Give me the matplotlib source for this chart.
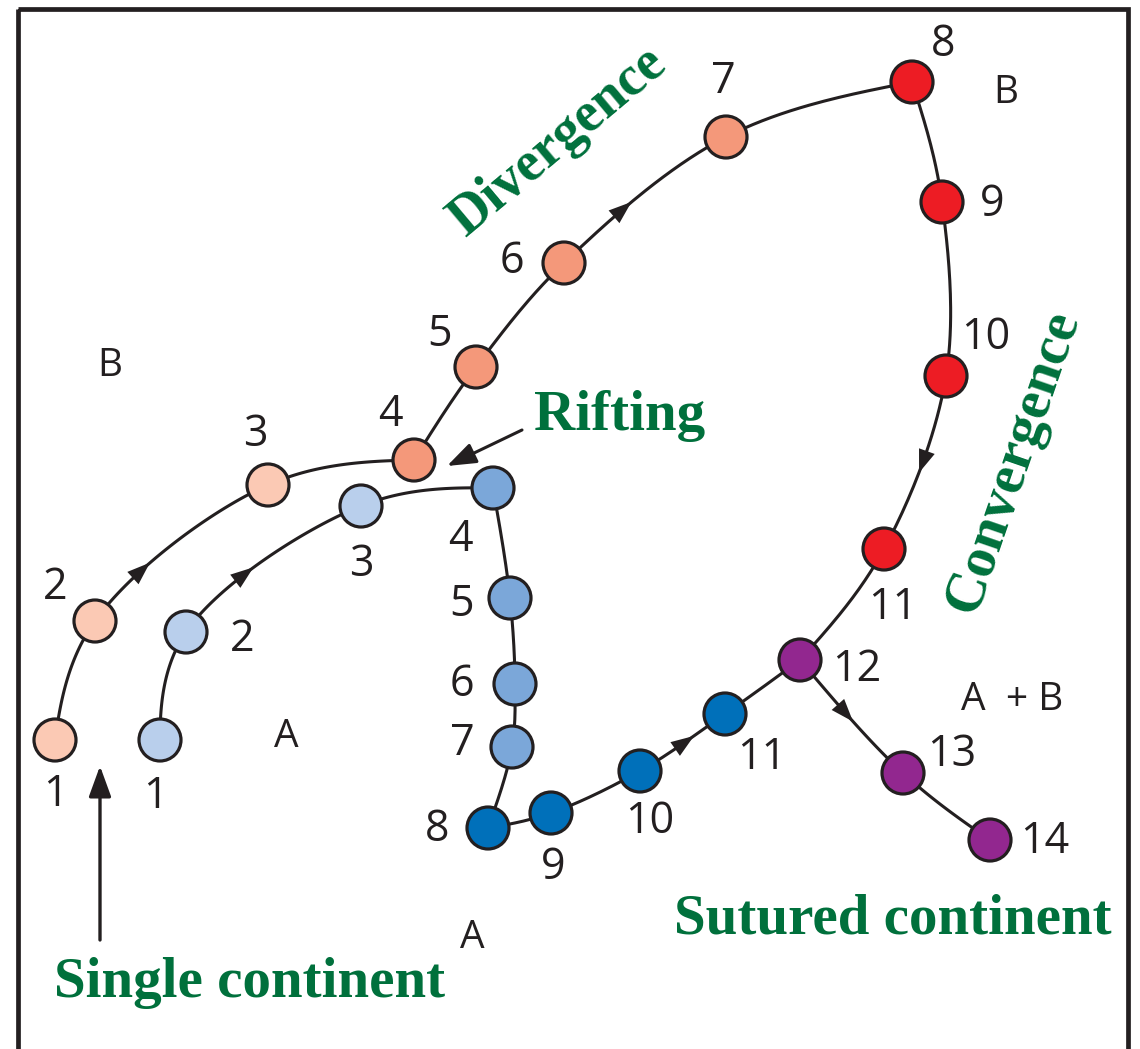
import numpy as np
import matplotlib
matplotlib.use("Agg")
import matplotlib.pyplot as plt
from matplotlib.patches import Circle, Rectangle, FancyArrowPatch

# ── data: stage positions (drawing pixel coords) ─────────────────────────────
# continent B path, stages 1-14 (12-14 = sutured A+B)
B_X = [55, 95, 268, 414, 476, 564, 726, 912, 942, 946, 884, 800, 903, 990]
B_Y = [740, 621, 485, 460, 367, 263, 137, 82, 202, 376, 549, 660, 773, 840]
B_STAGE = list(range(1, 15))
# continent A path, stages 1-11 (joins B at stage 12)
A_X = [160, 186, 361, 493, 510, 515, 512, 488, 551, 640, 725]
A_Y = [740, 632, 506, 488, 598, 684, 747, 828, 813, 771, 714]
A_STAGE = list(range(1, 12))

# stage groups -> phase colour
B_PHASE = ["pre"] * 3 + ["div"] * 4 + ["conv"] * 4 + ["sut"] * 3
A_PHASE = ["pre"] * 3 + ["div"] * 4 + ["conv"] * 4

# ── style ────────────────────────────────────────────────────────────────────
INK = "#231F20"
GREEN = "#00703C"
B_COL = {"pre": "#FBC9B4", "div": "#F4987A", "conv": "#ED1C24", "sut": "#92278F"}
A_COL = {"pre": "#B9CFEC", "div": "#7BA7D9", "conv": "#0070BA"}
R = 21
SANS = ["Open Sans", "DejaVu Sans"]
SERIF = ["Liberation Serif", "DejaVu Serif"]
HEAD = "-|>,head_length=0.55,head_width=0.2"

# label offsets from each circle (dx, dy)
B_LAB = [(0, 55), (-40, -33), (-13, -50), (-24, -45), (-36, -32), (-52, -1),
         (-3, -55), (31, -37), (50, 3), (40, -38), (9, 59), (57, 10), (49, -18), (55, 2)]
A_LAB = [(-5, 57), (56, 8), (0, 59), (-33, 52), (-48, 7), (-53, 1), (-50, -3),
         (-51, 2), (2, 55), (10, 51), (37, 44)]


def phantom(a, b, c):
    """extra point beyond c so the last span a-b-c ends like a circular arc"""
    t = c - a
    t = t / np.linalg.norm(t)
    ch = c - b
    L = np.linalg.norm(ch)
    ch = ch / L
    te = 2 * np.dot(t, ch) * ch - t
    return c + te * L


def catmull(px, py, n=40, alpha=0.5):
    """centripetal Catmull-Rom through the given points"""
    p = np.column_stack([px, py]).astype(float)
    if len(p) >= 3:
        head, tail = phantom(p[2], p[1], p[0]), phantom(p[-3], p[-2], p[-1])
    else:
        head, tail = 2 * p[0] - p[1], 2 * p[-1] - p[-2]
    p = np.vstack([head, p, tail])
    out = []
    for i in range(1, len(p) - 2):
        p0, p1, p2, p3 = p[i - 1], p[i], p[i + 1], p[i + 2]
        t0 = 0.0
        t1 = t0 + np.linalg.norm(p1 - p0) ** alpha
        t2 = t1 + np.linalg.norm(p2 - p1) ** alpha
        t3 = t2 + np.linalg.norm(p3 - p2) ** alpha
        t = np.linspace(t1, t2, n)[:, None]
        a1 = (t1 - t) / (t1 - t0) * p0 + (t - t0) / (t1 - t0) * p1
        a2 = (t2 - t) / (t2 - t1) * p1 + (t - t1) / (t2 - t1) * p2
        a3 = (t3 - t) / (t3 - t2) * p2 + (t - t2) / (t3 - t2) * p3
        b1 = (t2 - t) / (t2 - t0) * a1 + (t - t0) / (t2 - t0) * a2
        b2 = (t3 - t) / (t3 - t1) * a2 + (t - t1) / (t3 - t1) * a3
        out.append((t2 - t) / (t2 - t1) * b1 + (t - t1) / (t2 - t1) * b2)
    return np.vstack(out)


def seg_point(px, py, k, tt):
    c = catmull(px, py, n=201)
    i = k * 201 + int(tt * 200)
    return c[i], c[i + 3] - c[i - 3]


fig = plt.figure(figsize=(11.4, 10.49), dpi=100)
ax = fig.add_axes([0, 0, 1, 1])
ax.set_xlim(0, 1140); ax.set_ylim(1049, 0); ax.axis("off")

ax.add_patch(Rectangle((18, 9), 1110, 1100, fill=False, ec=INK, lw=3.4, zorder=0))

# path pieces (break at corners)
B_PIECES = [(0, 4), (3, 8), (7, 12), (11, 14)]
A_PIECES = [(0, 4), (3, 8)]
for xs, ys, pieces in [(B_X, B_Y, B_PIECES), (A_X, A_Y, A_PIECES)]:
    for a, b in pieces:
        c = catmull(xs[a:b], ys[a:b])
        ax.plot(c[:, 0], c[:, 1], color=INK, lw=2.2, zorder=1)
# A 8 -> 11 -> B 12
ax_x = A_X[7:] + [B_X[11]]; ax_y = A_Y[7:] + [B_Y[11]]
c = catmull(ax_x, ax_y)
ax.plot(c[:, 0], c[:, 1], color=INK, lw=2.2, zorder=1)

# direction arrowheads: (xs, ys, segment index, fraction)
heads = [
    (B_X[0:4], B_Y[0:4], 1, 0.33),
    (B_X[3:8], B_Y[3:8], 2, 0.40),
    (B_X[7:12], B_Y[7:12], 2, 0.48),
    (B_X[11:14], B_Y[11:14], 0, 0.45),
    (A_X[0:4], A_Y[0:4], 1, 0.40),
    (ax_x, ax_y, 2, 0.52),
]
for xs, ys, k, tt in heads:
    p, d = seg_point(xs, ys, k, tt)
    d = d / np.hypot(*d)
    ax.add_patch(FancyArrowPatch(p - 12 * d, p + 11 * d, arrowstyle=HEAD,
                                 mutation_scale=30, color=INK, lw=0, zorder=2,
                                 shrinkA=0, shrinkB=0))

# circles + numbers
for xs, ys, st, ph, cols, labs in [(B_X, B_Y, B_STAGE, B_PHASE, B_COL, B_LAB),
                                   (A_X, A_Y, A_STAGE, A_PHASE, A_COL, A_LAB)]:
    for x, y, s, p, (dx, dy) in zip(xs, ys, st, ph, labs):
        ax.add_patch(Circle((x, y), R, fc=cols[p], ec=INK, lw=2.3, zorder=3))
        ax.text(x + dx, y + dy, str(s), fontsize=31, family=SANS, color=INK,
                ha="center", va="center", zorder=4)

# continent letters
for x, y, t in [(110, 366, "B"), (1006, 93, "B"), (286, 737, "A"), (472, 938, "A"),
                (1012, 700, "A  + B")]:
    ax.text(x, y, t, fontsize=28, family=SANS, color=INK, ha="center", va="center")

# green phase labels
gk = dict(family=SERIF, fontweight="bold", color=GREEN, ha="center", va="center")
ax.text(558, 142, "Divergence", fontsize=40, rotation=40, **gk)
ax.text(1013, 462, "Convergence", fontsize=41, rotation=71, **gk)
ax.text(620, 416, "Rifting", fontsize=41, **gk)
ax.text(893, 920, "Sutured continent", fontsize=41, **gk)
ax.text(250, 983, "Single continent", fontsize=41, **gk)

# pointer arrows
ax.add_patch(FancyArrowPatch((522, 430), (447, 466), arrowstyle=HEAD, mutation_scale=32,
                             color=INK, lw=2.2, shrinkA=0, shrinkB=0))
ax.add_patch(FancyArrowPatch((100, 940), (100, 766), arrowstyle=HEAD, mutation_scale=34,
                             color=INK, lw=2.4, shrinkA=0, shrinkB=0))

fig.savefig("out.png", dpi=100, facecolor="white")
